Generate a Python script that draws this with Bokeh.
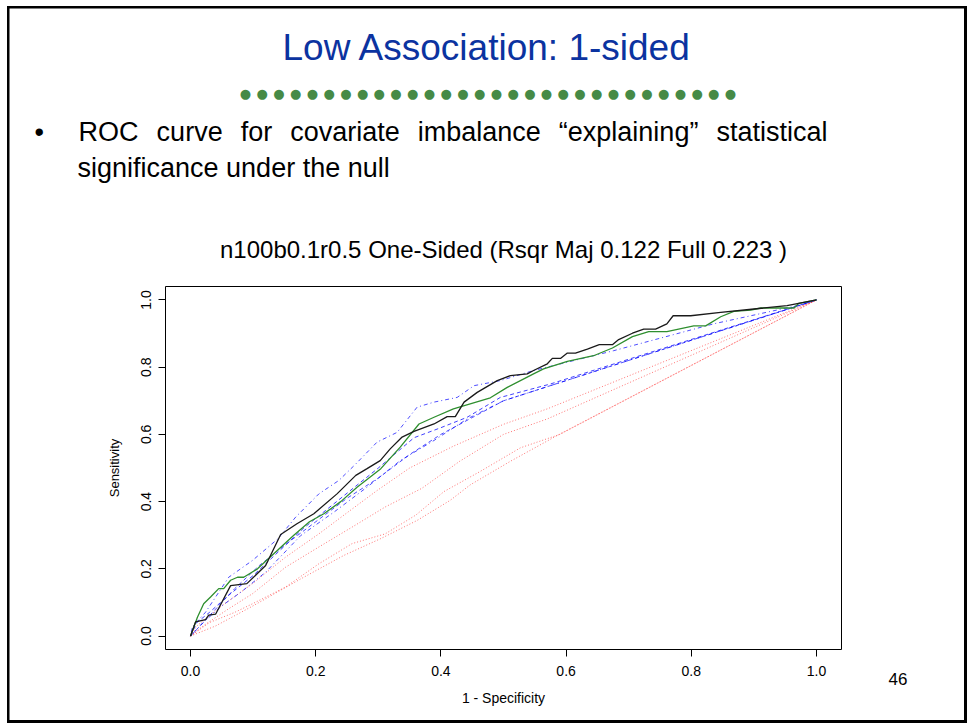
from bokeh.plotting import figure
from bokeh.models import (Range1d, FixedTicker, Title, LinearAxis)
from bokeh.embed import file_html
from bokeh.resources import INLINE

# ---------------- data ----------------
slide_title = "Low Association: 1-sided"
# first line of a justified paragraph: its word gaps are wider than normal spaces
GAP = "\u2004\u2004"
bullet_line1 = "\u2022\u2003\u2009\u200a" + GAP.join(
    ["ROC", "curve", "for", "covariate", "imbalance", "\u201cexplaining\u201d", "statistical"])
bullet_line2 = "significance under the null"
plot_title = "n100b0.1r0.5 One-Sided (Rsqr Maj 0.122 Full 0.223 )"
x_label = "1 - Specificity"
y_label = "Sensitivity"
page_number = "46"

tick_values = [0.0, 0.2, 0.4, 0.6, 0.8, 1.0]
tick_labels = ["0.0", "0.2", "0.4", "0.6", "0.8", "1.0"]

black_x = [0, 0.008, 0.024, 0.029, 0.04, 0.064, 0.09, 0.12, 0.144, 0.17, 0.197, 0.234, 0.264, 0.282, 0.303,
           0.319, 0.338, 0.357, 0.389, 0.41, 0.423, 0.437, 0.458, 0.49, 0.511, 0.538, 0.548, 0.57, 0.578,
           0.591, 0.602, 0.615, 0.634, 0.653, 0.674, 0.684, 0.706, 0.724, 0.743, 0.761, 0.771, 0.799,
           0.847, 0.9, 0.953, 1.0]
black_y = [0, 0.042, 0.049, 0.062, 0.065, 0.15, 0.156, 0.21, 0.302, 0.334, 0.364, 0.423, 0.478, 0.498, 0.522,
           0.557, 0.592, 0.609, 0.631, 0.653, 0.653, 0.696, 0.725, 0.76, 0.775, 0.78, 0.79, 0.81, 0.826,
           0.826, 0.842, 0.842, 0.854, 0.867, 0.867, 0.882, 0.901, 0.913, 0.913, 0.929, 0.953, 0.953,
           0.963, 0.973, 0.983, 1.0]

green_x = [0, 0.011, 0.021, 0.032, 0.045, 0.053, 0.064, 0.075, 0.085, 0.107, 0.139, 0.165, 0.19, 0.213,
           0.24, 0.266, 0.304, 0.335, 0.365, 0.389, 0.42, 0.479, 0.506, 0.548, 0.564, 0.602, 0.644, 0.674,
           0.706, 0.732, 0.761, 0.804, 0.823, 0.847, 0.868, 0.895, 0.911, 0.964, 0.972, 1.0]
green_y = [0, 0.056, 0.096, 0.116, 0.141, 0.141, 0.166, 0.175, 0.175, 0.2, 0.255, 0.3, 0.34, 0.364,
           0.4, 0.443, 0.498, 0.562, 0.631, 0.651, 0.676, 0.709, 0.74, 0.78, 0.795, 0.817, 0.834, 0.857,
           0.891, 0.906, 0.906, 0.923, 0.923, 0.95, 0.966, 0.97, 0.976, 0.976, 0.99, 1.0]

blue1_x = [0, 0.003, 0.024, 0.061, 0.099, 0.14, 0.168, 0.205, 0.237, 0.264, 0.298, 0.33, 0.362, 0.389,
           0.426, 0.453, 0.495, 0.548, 0.676, 0.836, 0.969, 1.0]
blue1_y = [0, 0.027, 0.071, 0.175, 0.225, 0.29, 0.354, 0.423, 0.463, 0.512, 0.577, 0.606, 0.681, 0.696,
           0.71, 0.745, 0.76, 0.79, 0.849, 0.929, 0.983, 1.0]

blue2_x = [0, 0.01, 0.03, 0.06, 0.1, 0.14, 0.18, 0.22, 0.26, 0.3, 0.357, 0.4, 0.442, 0.495, 0.575, 1.0]
blue2_y = [0, 0.04, 0.07, 0.12, 0.18, 0.25, 0.32, 0.38, 0.44, 0.5, 0.59, 0.62, 0.651, 0.71, 0.75, 1.0]

blue3_x = [0, 0.02, 0.05, 0.08, 0.12, 0.176, 0.23, 0.282, 0.335, 0.389, 0.442, 0.5, 1.0]
blue3_y = [0, 0.04, 0.09, 0.13, 0.19, 0.299, 0.37, 0.443, 0.522, 0.582, 0.646, 0.7, 1.0]

blue4_x = [0, 0.01, 0.04, 0.07, 0.11, 0.15, 0.2, 0.25, 0.3, 0.35, 0.4, 0.45, 0.5, 1.0]
blue4_y = [0, 0.02, 0.08, 0.14, 0.21, 0.27, 0.34, 0.41, 0.47, 0.54, 0.6, 0.65, 0.7, 1.0]

red1_x = [0, 0.01, 0.05, 0.099, 0.152, 0.205, 0.248, 0.298, 0.35, 0.42, 0.5, 0.57, 1.0]
red1_y = [0, 0.03, 0.09, 0.156, 0.235, 0.304, 0.364, 0.433, 0.5, 0.565, 0.63, 0.676, 1.0]

red2_x = [0, 0.02, 0.06, 0.099, 0.152, 0.205, 0.258, 0.311, 0.37, 0.43, 0.5, 0.57, 1.0]
red2_y = [0, 0.03, 0.08, 0.126, 0.205, 0.265, 0.324, 0.384, 0.44, 0.52, 0.6, 0.646, 1.0]

red3_x = [0, 0.03, 0.07, 0.099, 0.152, 0.205, 0.258, 0.311, 0.36, 0.405, 0.463, 0.527, 0.59, 1.0]
red3_y = [0, 0.04, 0.07, 0.096, 0.146, 0.215, 0.275, 0.304, 0.36, 0.43, 0.49, 0.56, 0.6, 1.0]

red4_x = [0, 0.04, 0.1, 0.176, 0.245, 0.304, 0.362, 0.415, 0.447, 0.511, 0.591, 1.0]
red4_y = [0, 0.03, 0.09, 0.17, 0.24, 0.29, 0.344, 0.404, 0.45, 0.52, 0.602, 1.0]

n_dots = 30

# ---------------- layout ----------------
W, H = 969, 726
FL, FR, FT, FB = 165, 841, 286, 649   # plot box edges in page pixels
FONT = "Liberation Sans"

p = figure(width=W, height=H, x_range=Range1d(-0.04, 1.04), y_range=Range1d(-0.04, 1.04),
           output_backend="svg", toolbar_location=None,
           min_border_left=FL, min_border_right=W - FR, min_border_top=FT, min_border_bottom=H - FB)
p.extra_x_ranges = {"page": Range1d(FL, FR)}
p.extra_y_ranges = {"page_y": Range1d(FB, FT)}
p.grid.visible = False
p.outline_line_color = "black"
p.outline_line_width = 1
p.outline_line_alpha = 1
p.background_fill_color = "white"
p.border_fill_color = None
p.styles = {
    "background": ("linear-gradient(#000,#000) 7px 6px / 2.5px 717px no-repeat, "
                   "linear-gradient(#000,#000) 963.5px 6px / 3px 717px no-repeat, "
                   "linear-gradient(#000,#000) 7px 6px / 959px 2.5px no-repeat, "
                   "linear-gradient(#000,#000) 7px 720px / 959px 3px no-repeat, white"),
}

for ax in (p.xaxis[0], p.yaxis[0]):
    ax.ticker = FixedTicker(ticks=tick_values)
    ax.major_label_overrides = dict(zip(tick_values, tick_labels))
    ax.axis_line_color = None
    ax.major_tick_in = 0
    ax.major_tick_out = 7
    ax.minor_tick_in = 0
    ax.minor_tick_out = 0
    ax.major_tick_line_color = "black"
    ax.major_label_text_font = FONT
    ax.major_label_text_font_size = "14px"
    ax.major_label_text_color = "black"
    ax.axis_label_text_font = FONT
    ax.axis_label_text_font_style = "normal"
    ax.axis_label_text_color = "black"

p.xaxis.axis_label = x_label
p.xaxis.axis_label_text_font_size = "14px"
p.xaxis.major_label_standoff = 9
p.xaxis.axis_label_standoff = 11
p.yaxis.axis_label = y_label
p.yaxis.axis_label_text_font_size = "13px"
p.yaxis.major_label_orientation = "vertical"
p.yaxis.major_label_standoff = 7
p.yaxis.axis_label_standoff = 17

# ---------------- curves ----------------
for xs, ys in [(red1_x, red1_y), (red2_x, red2_y), (red3_x, red3_y), (red4_x, red4_y)]:
    p.line(xs, ys, line_color="red", line_alpha=0.55, line_width=1, line_dash="1 2")
p.line(blue4_x, blue4_y, line_color="blue", line_alpha=0.7, line_width=1, line_dash="4 3")
p.line(blue3_x, blue3_y, line_color="blue", line_alpha=0.7, line_width=1, line_dash="1 3 4 3")
p.line(blue2_x, blue2_y, line_color="blue", line_alpha=0.75, line_width=1, line_dash="4 3")
p.line(blue1_x, blue1_y, line_color="blue", line_alpha=0.7, line_width=1, line_dash="1 3 4 3")
p.line(green_x, green_y, line_color="#2f8f2f", line_width=1.3)
p.line(black_x, black_y, line_color="#1a1a1a", line_width=1.3)


# ---------------- slide texts: stacked above the plot box ----------------
def title(text, size, standoff, align="left", offset=0, color="black"):
    return Title(text=text, align=align, offset=offset, standoff=standoff,
                 text_font=FONT, text_font_size=size, text_font_style="normal", text_color=color)


p.add_layout(title(plot_title, "24px", 47, align="center"), "above")
p.add_layout(title(" ", "10px", 13), "above")                      # spacer
p.add_layout(title(bullet_line2, "27px", 3.4, offset=77 - FL), "above")
p.add_layout(title(bullet_line1, "27px", 4.2, offset=34 - FL), "above")

# row of green decorative dots, placed as labels of an axis on the page-pixel range
dot_x = [245 + i * (730 - 245) / (n_dots - 1) for i in range(n_dots)]
dots_axis = LinearAxis(x_range_name="page", ticker=FixedTicker(ticks=dot_x),
                       major_label_overrides={v: "\u25cf" for v in dot_x})
dots_axis.axis_line_color = None
dots_axis.major_tick_line_color = None
dots_axis.minor_tick_line_color = None
dots_axis.major_tick_out = 0
dots_axis.major_tick_in = 0
dots_axis.major_label_text_font = "DejaVu Sans"
dots_axis.major_label_text_font_size = "13px"
dots_axis.major_label_text_color = "#468a46"
dots_axis.major_label_standoff = 13
p.add_layout(dots_axis, "above")

p.add_layout(title(slide_title, "37px", 30, offset=282 - FL, color="#0b33a0"), "above")

# page number: label of a bare axis on the right, anchored at the bottom of the plot box
num_axis = LinearAxis(y_range_name="page_y", ticker=FixedTicker(ticks=[FB]),
                      major_label_overrides={FB: "\n\n\n" + page_number})
num_axis.axis_line_color = None
num_axis.major_tick_line_color = None
num_axis.minor_tick_line_color = None
num_axis.major_tick_out = 0
num_axis.major_tick_in = 0
num_axis.major_label_standoff = 888 - FR
num_axis.major_label_text_font = FONT
num_axis.major_label_text_font_size = "17px"
num_axis.major_label_text_line_height = 1.05
num_axis.major_label_text_color = "black"
p.add_layout(num_axis, "right")

open("out.html", "w").write(file_html(p, INLINE))
